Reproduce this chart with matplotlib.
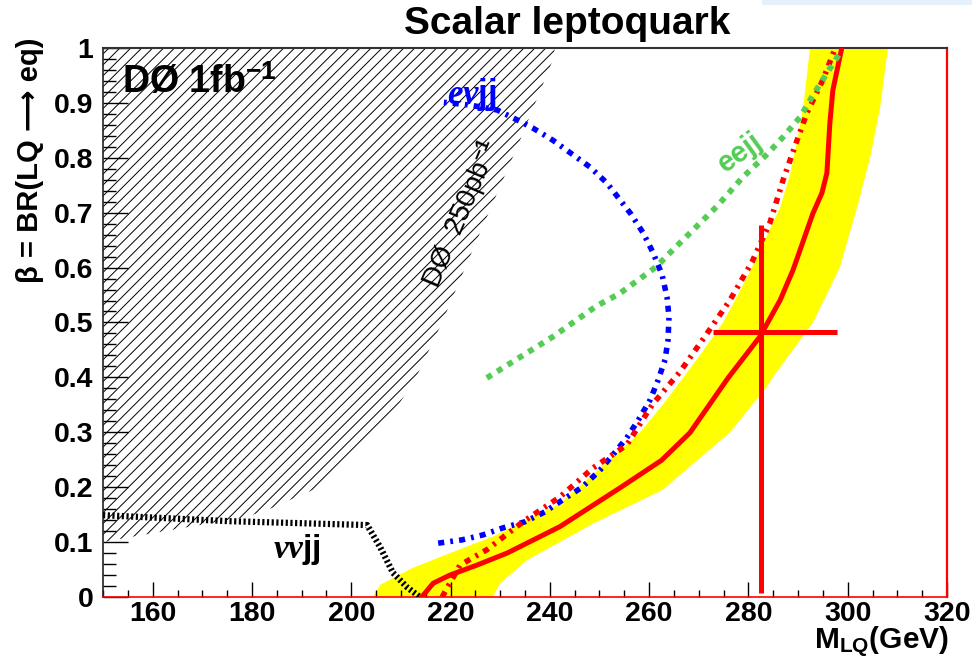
import numpy as np
import matplotlib
matplotlib.use("Agg")
import matplotlib.pyplot as plt
from matplotlib.patches import Polygon, Rectangle
from matplotlib.ticker import MultipleLocator

plt.rcParams["font.family"] = ["Liberation Sans", "DejaVu Sans"]
plt.rcParams["font.weight"] = "bold"
plt.rcParams["mathtext.fontset"] = "custom"
plt.rcParams["mathtext.rm"] = "Liberation Sans"
plt.rcParams["mathtext.bf"] = "Liberation Sans:bold"
plt.rcParams["mathtext.it"] = "Liberation Serif:italic"

# D0 250 pb^-1 excluded region (hatched)
old_m = [150, 241.0, 240.6, 234.0, 225.3, 218.3, 212.8, 208.4, 204.4, 197.7,
         192.3, 187.7, 184.0, 179.0, 155.4, 150]
old_beta = [1.0, 1.0, 0.978, 0.832, 0.650, 0.500, 0.395, 0.335, 0.300, 0.244,
            0.195, 0.177, 0.162, 0.146, 0.109, 0.100]

# nu nu jj limit
nnjj_m = [150, 175.6, 203.2, 205.8, 208.4, 211.2, 213.8]
nnjj_beta = [0.149, 0.138, 0.131, 0.091, 0.044, 0.018, 0.0]

# e nu jj limit
enjj_m = [217.5, 222.3, 226.5, 230.6, 235.0, 239.0, 242.6, 246.5, 250.1, 252.7,
          255.5, 257.8, 260.2, 261.8, 263.2, 263.8, 264.0, 263.6, 262.6, 260.8,
          258.8, 256.3, 251.5, 248.1, 240.6, 236.6, 233.4, 229.4, 223.9, 219.9, 217.5]
enjj_beta = [0.098, 0.104, 0.113, 0.126, 0.137, 0.155, 0.177, 0.200, 0.231, 0.259,
             0.290, 0.322, 0.359, 0.395, 0.432, 0.468, 0.510, 0.546, 0.587, 0.627,
             0.663, 0.698, 0.754, 0.783, 0.832, 0.854, 0.869, 0.887, 0.896, 0.900, 0.902]

# e e jj limit
eejj_m = [227.3, 240.6, 249.4, 254.1, 258.2, 261.5, 264.2, 268.8, 273.7, 278.9,
          283.7, 287.0, 290.4, 293.0, 295.8, 298.8]
eejj_beta = [0.399, 0.474, 0.530, 0.553, 0.580, 0.602, 0.627, 0.668, 0.712, 0.765,
             0.806, 0.838, 0.874, 0.914, 0.954, 0.996]

# expected combined limit
exp_m = [218.3, 221.9, 227.3, 234.6, 242.0, 248.7, 255.5, 260.6, 266.2, 271.2,
         276.3, 280.7, 284.3, 287.0, 289.8, 291.8, 295.0, 297.5]
exp_beta = [0.0, 0.058, 0.086, 0.137, 0.182, 0.235, 0.277, 0.350, 0.410, 0.474,
            0.541, 0.610, 0.681, 0.760, 0.832, 0.882, 0.942, 1.0]

# observed combined limit
obs_m = [214.2, 216.5, 219.9, 225.3, 231.4, 242.0, 254.0, 262.5, 268.2, 275.9,
         282.3, 286.4, 289.0, 293.0, 294.8, 295.8, 296.4, 297.0, 298.8]
obs_beta = [0.0, 0.025, 0.040, 0.058, 0.080, 0.128, 0.198, 0.249, 0.299, 0.399,
            0.474, 0.541, 0.596, 0.699, 0.736, 0.772, 0.863, 0.923, 1.0]

# uncertainty band on the observed limit
band_lo_m = [204.4, 205.8, 212.4, 219.9, 228.5, 242.0, 252.7, 258.2, 263.6, 270.2,
             274.9, 279.6, 283.3, 286.4, 288.4, 289.8, 291.0, 292.4]
band_lo_beta = [0.0, 0.022, 0.053, 0.080, 0.110, 0.170, 0.255, 0.300, 0.360, 0.440,
                0.500, 0.580, 0.650, 0.710, 0.770, 0.830, 0.890, 1.0]
band_hi_m = [228.5, 230.0, 235.4, 249.0, 262.7, 276.3, 283.7, 284.9, 293.0, 298.4,
             301.9, 304.5, 306.5, 308.1]
band_hi_beta = [0.0, 0.025, 0.067, 0.135, 0.195, 0.300, 0.383, 0.400, 0.500, 0.600,
                0.710, 0.800, 0.890, 1.0]

# cross marker: mass and beta with asymmetric errors
cross_m, cross_beta = 282.5, 0.483
cross_m_err = [[9.6], [15.3]]
cross_beta_err = [[0.476], [0.195]]

fig = plt.figure(figsize=(9.72, 6.6), dpi=100)
ax = fig.add_axes([0.106, 0.0955, 0.8683, 0.8318])
ax.set_xlim(150, 320)
ax.set_ylim(0, 1)

# yellow band
ax.fill(np.concatenate([band_lo_m, band_hi_m[::-1]]),
        np.concatenate([band_lo_beta, band_hi_beta[::-1]]),
        color="#ffff00", lw=0, zorder=1)

# hatched region, lines at 45 degrees on screen clipped to the polygon
old_patch = Polygon(np.column_stack([old_m, old_beta]), closed=True,
                    fill=False, lw=0, transform=ax.transData)
ax.add_patch(old_patch)
fig.canvas.draw()
bbox = ax.get_window_extent()
slope = (bbox.width / 170.0) / bbox.height
run = 1.0 / slope
for c in np.arange(150 - run - 1, 245, 2.2):
    hl, = ax.plot([c, c + run], [0, 1], color="black", lw=0.7, zorder=2)
    hl.set_clip_path(old_patch)

ax.plot(nnjj_m, nnjj_beta, color="black", lw=4.5,
        linestyle=(0, (0.35, 0.4)), dash_capstyle="butt", zorder=3)
ax.plot(enjj_m, enjj_beta, color="#0000ff", lw=4,
        linestyle=(0, (1.1, 1.1, 0.5, 1.1)), dash_capstyle="butt", zorder=4)
ax.plot(exp_m, exp_beta, color="#ff0000", lw=4,
        linestyle=(0, (1.1, 1.1, 0.5, 1.1)), dash_capstyle="butt", zorder=4)
ax.plot(obs_m, obs_beta, color="#ff0000", lw=3.6, zorder=5)
ax.plot(eejj_m, eejj_beta, color="#55cc55", lw=4.2,
        linestyle=(0, (1, 1.1)), dash_capstyle="butt", zorder=6)

ax.errorbar([cross_m], [cross_beta], xerr=cross_m_err, yerr=cross_beta_err,
            fmt="none", ecolor="#ff0000", elinewidth=3.6, capsize=0, zorder=7)

# labels on the plot
ax.text(153.8, 0.918, r"DØ 1fb$^{\mathbf{-1}}$", fontsize=27, fontweight="bold",
        va="baseline", ha="left", zorder=8)
ax.text(222.3, 0.698, r"DØ  250pb$^{\mathrm{-1}}$", fontsize=20, fontweight="normal",
        rotation=67, ha="center", va="center", zorder=8)
ax.text(189.1, 0.086, r"$\nu\nu\mathbf{jj}$", fontsize=24,
        ha="center", va="center", zorder=8)
ax.text(224.3, 0.916, r"$e\nu\mathbf{jj}$", fontsize=25, color="#0000ff",
        ha="center", va="center", zorder=8)
ax.text(278.3, 0.809, "eejj", fontsize=21, color="#55cc55", rotation=36,
        ha="center", va="center", zorder=8)

# axes styling
ax.xaxis.set_major_locator(MultipleLocator(20))
ax.xaxis.set_minor_locator(MultipleLocator(5))
ax.yaxis.set_minor_locator(MultipleLocator(0.02))
ax.set_yticks(np.arange(0, 1.01, 0.1))
ax.set_yticklabels(["0", "0.1", "0.2", "0.3", "0.4", "0.5", "0.6", "0.7", "0.8", "0.9", "1"])
ax.tick_params(axis="both", which="both", direction="in", top=False, right=False,
               labelsize=20.5, width=1.0)
ax.tick_params(axis="x", which="major", length=11, pad=3)
ax.tick_params(axis="x", which="minor", length=5)
ax.tick_params(axis="y", which="major", length=18, pad=7)
ax.tick_params(axis="y", which="minor", length=9)
for lab in ax.get_xticklabels() + ax.get_yticklabels():
    lab.set_fontweight("bold")

ax.spines["left"].set_color("#222222")
ax.spines["left"].set_linewidth(1.2)
ax.spines["top"].set_color("#333333")
ax.spines["top"].set_linewidth(1.5)
ax.spines["right"].set_color("#ff0000")
ax.spines["right"].set_linewidth(1.6)
ax.spines["bottom"].set_color("#ff0000")
ax.spines["bottom"].set_linewidth(1.2)

fig.text(0.584, 0.964, "Scalar leptoquark", fontsize=28, fontweight="bold",
         ha="center", va="center")
fig.text(0.031, 0.757, "β = BR(LQ ⟶ eq)", fontsize=21, fontweight="bold",
         rotation=90, ha="center", va="center")
fig.text(0.976, 0.017, r"M$_{\mathbf{LQ}}$(GeV)", fontsize=21.5, fontweight="bold",
         ha="right", va="baseline")

fig.patches.append(Rectangle((0.784, 0.992), 0.216, 0.008, transform=fig.transFigure,
                             color="#e6f0fa", lw=0, zorder=0))

fig.savefig("out.png", dpi=100)
